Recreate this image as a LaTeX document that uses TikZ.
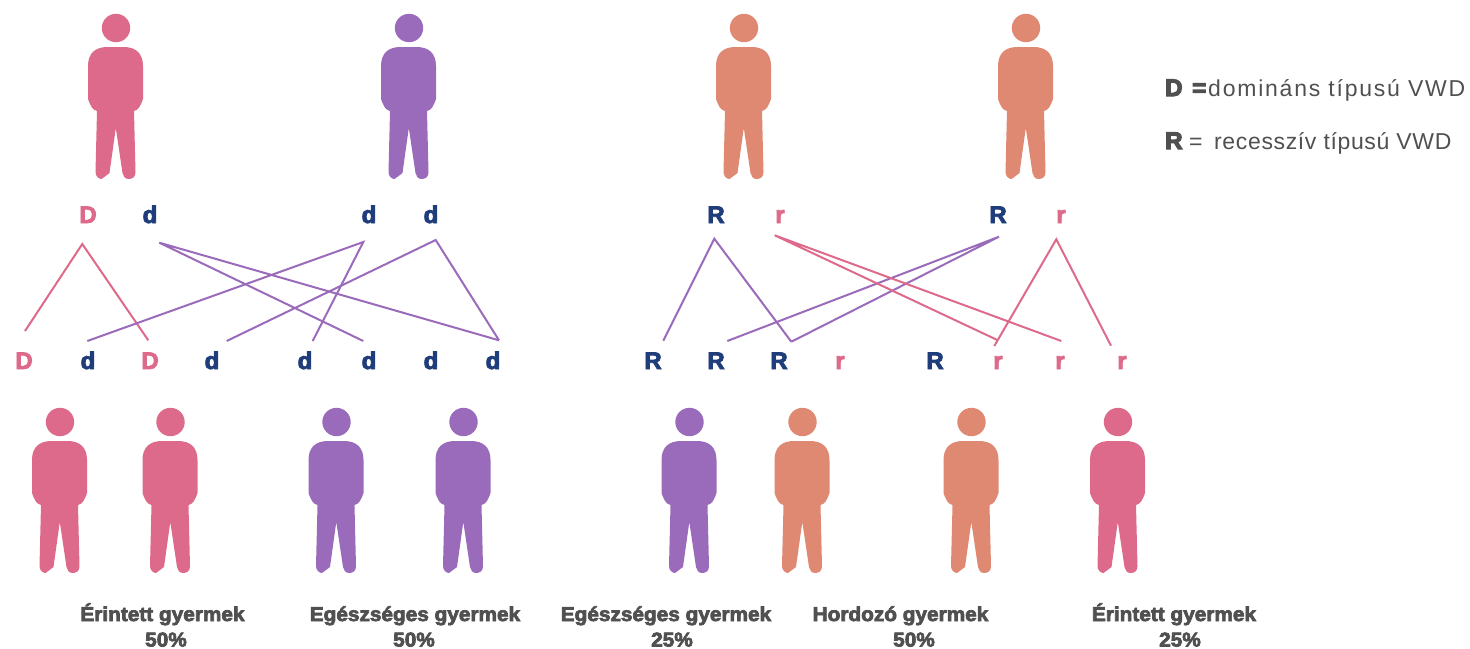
\documentclass[tikz,border=0pt]{standalone}
\usepackage{fontspec}
\setmainfont{Liberation Sans}
\newfontfamily\heavy[FakeBold=3.5]{Liberation Sans Bold}
\newfontfamily\heavykey[FakeBold=5]{Liberation Sans Bold}
\newfontfamily\heavycap[FakeBold=3.6,FakeStretch=1.04]{Liberation Sans Bold}
\newfontfamily\spaceda[LetterSpace=7.7]{Liberation Sans}
\newfontfamily\spacedb[LetterSpace=2.8]{Liberation Sans}
\definecolor{pinkc}{HTML}{DD6A8A}
\definecolor{purplec}{HTML}{9B6BBB}
\definecolor{salmonc}{HTML}{DF8872}
\definecolor{navyc}{HTML}{1F3D7A}
\definecolor{greyc}{HTML}{505050}
\tikzset{
  person/.pic={
    \fill[fill=#1] (0.5,-19) circle (14.2);
    \fill[fill=#1] (-8,0) -- (8,0) .. controls (20,0) and (27.5,6) .. (27.5,19)
      -- (27.5,52) .. controls (25,59) and (23,63) .. (18.5,64) -- (20,125) .. controls (20,130) and (17,132) .. (13,132)
      .. controls (9.5,132) and (7.5,129) .. (7,126) -- (0.3,81) -- (-6,126) -- (-14,132)
      .. controls (-17,132) and (-20,129) .. (-20,125) -- (-18.5,64) .. controls (-23,63) and (-25,59) .. (-27.5,52)
      -- (-27.5,19) .. controls (-27.5,6) and (-20,0) .. (-8,0) -- cycle;
  },
  gene/.style={font=\fontsize{24}{24}\heavy, anchor=base, inner sep=0pt},
  genep/.style={gene, text=pinkc},
  genen/.style={gene, text=navyc},
  caption/.style={font=\fontsize{20}{20}\heavycap, text=greyc, anchor=base, inner sep=0pt},
  legenda/.style={font=\fontsize{23}{23}\spaceda, text=greyc, anchor=base west, inner sep=0pt},
  legendb/.style={font=\fontsize{23}{23}\spacedb, text=greyc, anchor=base west, inner sep=0pt},
  legendkey/.style={font=\fontsize{24}{24}\heavykey, text=greyc, anchor=base west, inner sep=0pt},
  linkp/.style={draw=purplec, line width=2pt, line join=miter},
  linkr/.style={draw=pinkc, line width=2pt, line join=miter},
}
\begin{document}
\begin{tikzpicture}[x=1pt,y=-1pt]
\useasboundingbox (0,0) rectangle (1470,648);
% parents
\pic (pa) at (115.5,47) {person=pinkc};
\pic (pb) at (408.5,47) {person=purplec};
\pic (pc) at (743.5,47) {person=salmonc};
\pic (pd) at (1025.5,47) {person=salmonc};
% children
\pic (ca) at (59.5,441) {person=pinkc};
\pic (cb) at (170,441) {person=pinkc};
\pic (cc) at (336,441) {person=purplec};
\pic (cd) at (463,441) {person=purplec};
\pic (ce) at (689,441) {person=purplec};
\pic (cf) at (802,441) {person=salmonc};
\pic (cg) at (971,441) {person=salmonc};
\pic (ch) at (1117.5,441) {person=pinkc};
% parent genes
\node[genep] (t1) at (88,223) {D};
\node[genen] (t2) at (150,223) {d};
\node[genen] (t3) at (369,223) {d};
\node[genen] (t4) at (431,223) {d};
\node[genen] (t5) at (716,223) {R};
\node[genep] (t6) at (780,223) {r};
\node[genen] (t7) at (998,223) {R};
\node[genep] (t8) at (1061,223) {r};
% child genes
\node[genep] (b1) at (24,369) {D};
\node[genen] (b2) at (88,369) {d};
\node[genep] (b3) at (150,369) {D};
\node[genen] (b4) at (212,369) {d};
\node[genen] (b5) at (305,369) {d};
\node[genen] (b6) at (369,369) {d};
\node[genen] (b7) at (431,369) {d};
\node[genen] (b8) at (493,369) {d};
\node[genen] (b9) at (653,369) {R};
\node[genen] (b10) at (716,369) {R};
\node[genen] (b11) at (779,369) {R};
\node[genep] (b12) at (840,369) {r};
\node[genen] (b13) at (935,369) {R};
\node[genep] (b14) at (998,369) {r};
\node[genep] (b15) at (1060,369) {r};
\node[genep] (b16) at (1122,369) {r};
% link ends
\coordinate (a1) at (82.3,244);
\coordinate (a2) at (159.3,242.7);
\coordinate (a3) at (363.3,242);
\coordinate (a4) at (435.7,240);
\coordinate (a5) at (714.3,238.7);
\coordinate (a6) at (774.7,235.3);
\coordinate (a7) at (999,236.7);
\coordinate (a8) at (1056.3,239.3);
\coordinate (e1) at (25,331);
\coordinate (e2) at (87.3,341);
\coordinate (e3) at (148.3,340.3);
\coordinate (e4) at (226.7,341);
\coordinate (e5) at (312.7,341);
\coordinate (e6) at (363.3,341);
\coordinate (e8) at (499,340.3);
\coordinate (e9) at (663.3,340.7);
\coordinate (e10) at (727.3,341);
\coordinate (e11) at (791.3,341.7);
\coordinate (e14) at (997.3,340);
\coordinate (e14b) at (994.3,346);
\coordinate (e15) at (1061.3,341);
\coordinate (e16) at (1111,345.7);
% links
\draw[linkr] (e1) -- (a1) -- (e3);
\draw[linkp] (e6) -- (a2) -- (e8);
\draw[linkp] (e2) -- (a3) -- (e5);
\draw[linkp] (e4) -- (a4) -- (e8);
\draw[linkp] (e9) -- (a5) -- (e11);
\draw[linkp] (e10) -- (a7) -- (e11);
\draw[linkr] (e14) -- (a6) -- (e15);
\draw[linkr] (e14b) -- (a8) -- (e16);
% legend
\node[legendkey] (k1) at (1165,96) {D};
\node[legendkey] (k1e) at (1192,96) {=};
\node[legenda] (k2) at (1208,96) {domináns típusú VWD};
\node[legendkey] (k3) at (1165,149) {R};
\node[legendb] (k4) at (1189,149) {=};
\node[legendb] (k5) at (1214,149) {recesszív típusú VWD};
% captions
\node[caption] (c1) at (162.5,621) {Érintett gyermek};
\node[caption] (c2) at (415,621) {Egészséges gyermek};
\node[caption] (c3) at (666,621) {Egészséges gyermek};
\node[caption] (c4) at (900.5,621) {Hordozó gyermek};
\node[caption] (c5) at (1174,621) {Érintett gyermek};
\node[caption] (p1) at (166,646.5) {50\%};
\node[caption] (p2) at (414,646.5) {50\%};
\node[caption] (p3) at (672,646.5) {25\%};
\node[caption] (p4) at (914,646.5) {50\%};
\node[caption] (p5) at (1180,646.5) {25\%};
\end{tikzpicture}
\end{document}
